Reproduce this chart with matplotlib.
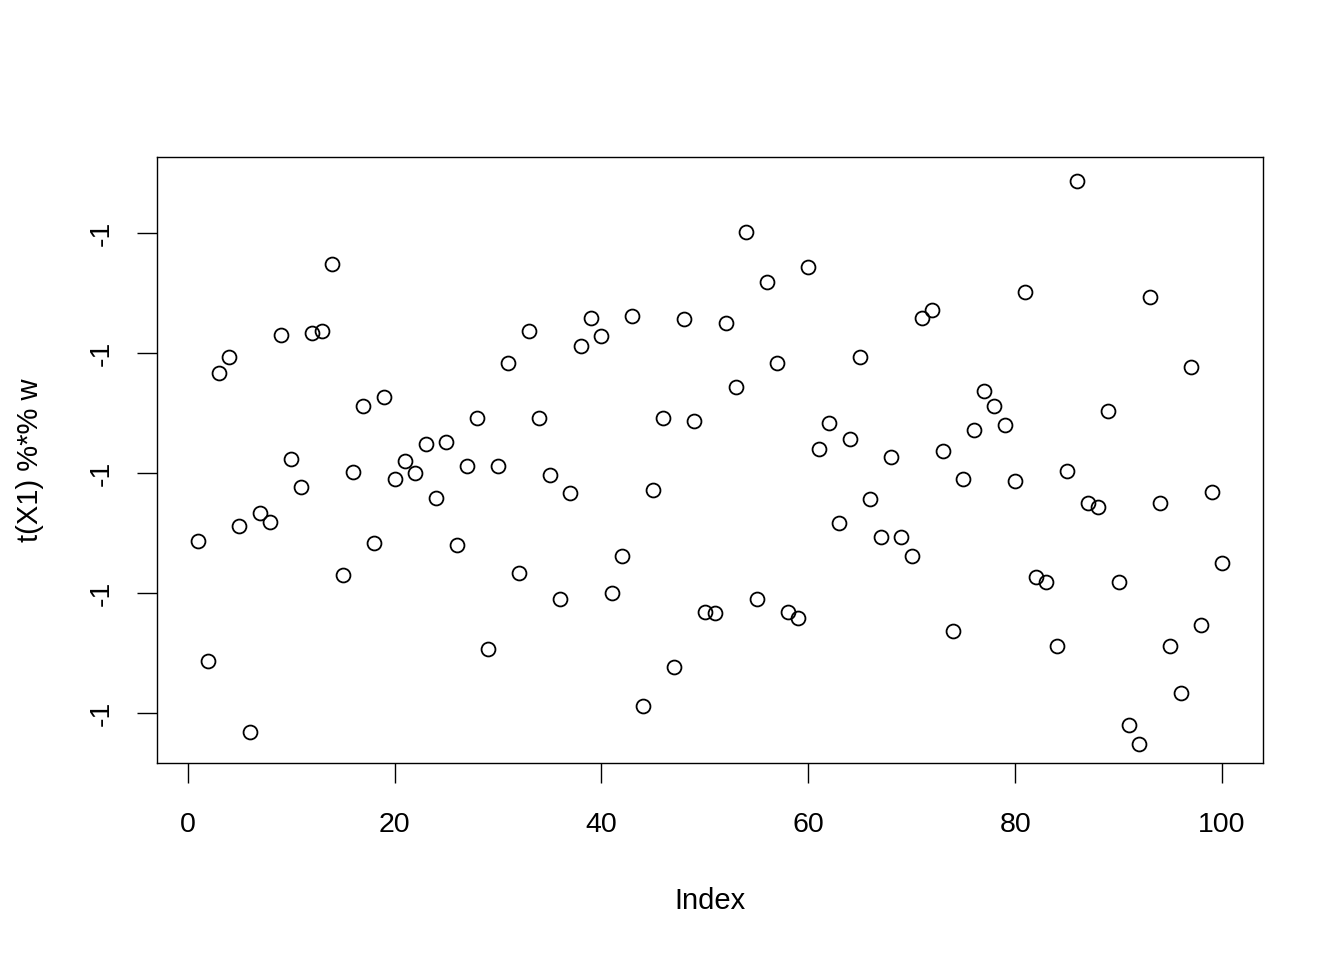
import matplotlib
matplotlib.use("Agg")
import matplotlib.pyplot as plt
import numpy as np

plt.rcParams["font.family"] = ["Liberation Sans", "DejaVu Sans"]

# values of t(X1) %*% w, in units of the (identically labelled) y ticks
index = np.arange(1, 101)
values = [
    1.43, 0.43, 2.83, 2.97, 1.56, -0.16, 1.67, 1.59, 3.15, 2.12,
    1.88, 3.17, 3.18, 3.74, 1.15, 2.01, 2.56, 1.42, 2.63, 1.95,
    2.10, 2.00, 2.24, 1.79, 2.26, 1.40, 2.06, 2.46, 0.53, 2.06,
    2.92, 1.17, 3.18, 2.46, 1.98, 0.95, 1.83, 3.06, 3.29, 3.14,
    1.00, 1.31, 3.31, 0.06, 1.86, 2.46, 0.38, 3.28, 2.43, 0.84,
    0.83, 3.25, 2.72, 4.01, 0.95, 3.59, 2.92, 0.84, 0.79, 3.72,
    2.20, 2.42, 1.58, 2.28, 2.97, 1.78, 1.47, 2.13, 1.47, 1.31,
    3.29, 3.36, 2.18, 0.68, 1.95, 2.36, 2.68, 2.56, 2.40, 1.93,
    3.51, 1.13, 1.09, 0.56, 2.02, 4.43, 1.75, 1.72, 2.52, 1.09,
    -0.10, -0.26, 3.47, 1.75, 0.56, 0.17, 2.88, 0.73, 1.84, 1.25,
]
x_ticks = [0, 20, 40, 60, 80, 100]
y_ticks = [0, 1, 2, 3, 4]
y_tick_labels = ["-1"] * 5

fig = plt.figure(figsize=(13.44, 9.6), dpi=100)
ax = fig.add_axes([157 / 1344, 197 / 960, 1106 / 1344, 606 / 960])
ax.plot(index, values, "o", mfc="none", mec="black", ms=10, mew=1.3)

ax.set_xlim(-2.96, 103.96)
ax.set_ylim(-0.417, 4.633)
ax.set_xticks(x_ticks)
ax.set_yticks(y_ticks)
ax.set_yticklabels(y_tick_labels, rotation=90, va="center")
ax.tick_params(length=14.4, width=1.0, labelsize=20.5)
ax.tick_params(axis="x", pad=21)
ax.tick_params(axis="y", pad=16)
for s in ax.spines.values():
    s.set_linewidth(1.0)

ax.set_xlabel("Index", fontsize=21, va="center")
ax.xaxis.set_label_coords(0.5, (763 - 901) / 606)
ax.set_ylabel("t(X1) %*% w", fontsize=21, va="center")
ax.yaxis.set_label_coords((30 - 157) / 1106, 0.5)

fig.savefig("out.png", dpi=100)
